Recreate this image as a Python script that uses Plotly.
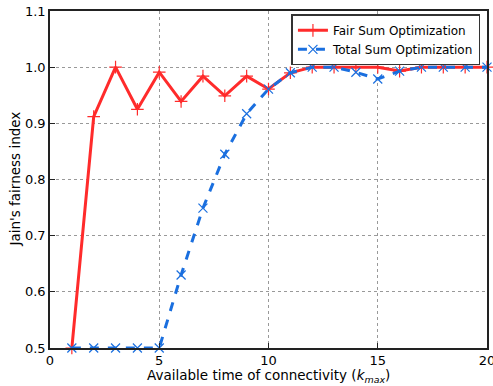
import plotly.graph_objects as go

k_values = list(range(1, 21))
fair_sum = [0.50, 0.912, 1.0, 0.925, 0.991, 0.939, 0.984, 0.949, 0.984, 0.961,
            0.990, 1.0, 1.0, 1.0, 1.0, 0.993, 1.0, 1.0, 1.0, 1.0]
total_sum = [0.50, 0.50, 0.50, 0.50, 0.50, 0.630, 0.749, 0.845, 0.917, 0.961,
             0.990, 1.0, 1.0, 0.991, 0.979, 0.993, 1.0, 1.0, 1.0, 1.0]
x_ticks = [0, 5, 10, 15, 20]
y_ticks = [0.5, 0.6, 0.7, 0.8, 0.9, 1.0, 1.1]
y_tick_labels = ["0.5", "0.6", "0.7", "0.8", "0.9", "1.0", "1.1"]

fig = go.Figure()
fig.add_trace(go.Scatter(
    x=k_values, y=fair_sum, mode="lines+markers", name="Fair Sum Optimization",
    line=dict(color="#ff2b2b", width=3),
    marker=dict(symbol="cross-thin", size=9, line=dict(color="#ff2b2b", width=1.2)),
    cliponaxis=False,
))
fig.add_trace(go.Scatter(
    x=k_values, y=total_sum, mode="lines+markers", name="Total Sum Optimization",
    line=dict(color="#1a6fdf", width=3, dash="dash"),
    marker=dict(symbol="x-thin", size=9, line=dict(color="#1a6fdf", width=1.2)),
    cliponaxis=False,
))

axis_common = dict(
    showline=True, linecolor="#222222", linewidth=1.5, mirror=True,
    ticks="inside", ticklen=5, tickcolor="#222222",
    showgrid=True, gridcolor="#999999", griddash="dot", gridwidth=1,
    zeroline=False, automargin=False, ticklabeloverflow="allow",
    tickfont=dict(family="DejaVu Sans", size=13, color="black"),
)
fig.update_xaxes(range=[0, 20], tickvals=x_ticks, **axis_common)
fig.update_yaxes(range=[0.5, 1.1], tickvals=y_ticks, ticktext=y_tick_labels,
                 **axis_common)

fig.add_annotation(text="Available time of connectivity (<i>k<sub>max</sub></i>)",
                   xref="paper", yref="paper", x=0.5, y=0, yshift=-28,
                   xanchor="center", yanchor="middle", showarrow=False,
                   font=dict(family="DejaVu Sans", size=13.5, color="black"))
fig.add_annotation(text="Jain's fairness index",
                   xref="paper", yref="paper", x=0, y=0.5, xshift=-36,
                   xanchor="center", yanchor="middle", textangle=-90, showarrow=False,
                   font=dict(family="DejaVu Sans", size=13.5, color="black"))

fig.update_layout(
    width=493, height=386,
    margin=dict(l=50, r=6, t=11, b=38),
    plot_bgcolor="white", paper_bgcolor="white",
    font=dict(family="DejaVu Sans", color="black"),
    legend=dict(x=0.985, y=0.99, xanchor="right", yanchor="top",
                bgcolor="white", bordercolor="#333333", borderwidth=1.5,
                font=dict(family="DejaVu Sans", size=12, color="black"),
                tracegroupgap=0, itemwidth=30),
    showlegend=True,
)

fig.write_html("out.html", config={"displayModeBar": False},
               post_script="document.body.style.margin='0';document.body.style.overflow='hidden';")
